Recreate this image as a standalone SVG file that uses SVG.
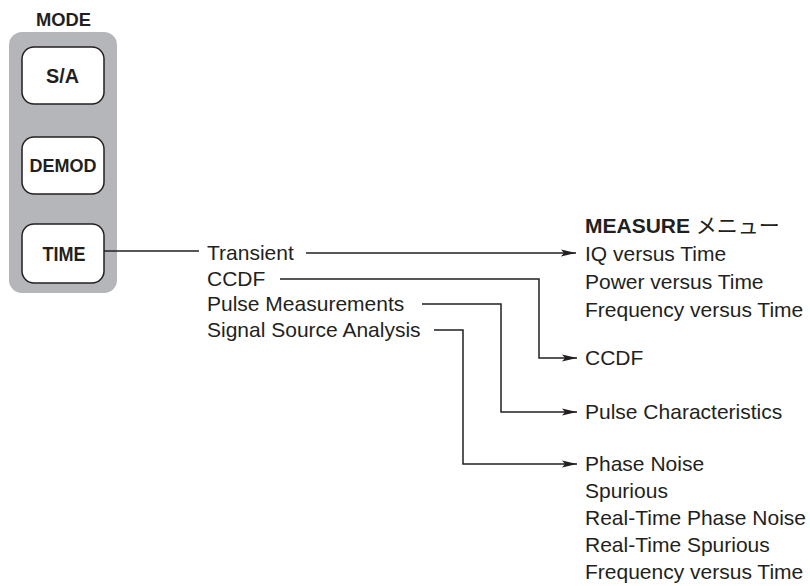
<svg xmlns="http://www.w3.org/2000/svg" width="810" height="586" viewBox="0 0 810 586">
<defs>
<marker id="arr" markerUnits="userSpaceOnUse" markerWidth="16" markerHeight="8" refX="15" refY="4" orient="auto">
<path d="M0,0.6 L15,4 L0,7.4 L3,4 Z" fill="#231f20"/>
</marker>
</defs>
<style>
.t{font-family:"Liberation Sans",Arial,"Noto Sans CJK JP",sans-serif;font-size:21px;fill:#231f20}
.b{font-family:"Liberation Sans",Arial,sans-serif;font-weight:bold;fill:#231f20;text-anchor:middle}
.btn{fill:#fff;stroke:#231f20;stroke-width:1.5}
.c{fill:none;stroke:#231f20;stroke-width:1.5}
</style>
<g id="mode-panel">
<text class="b" x="63.5" y="26" font-size="18" textLength="55" lengthAdjust="spacingAndGlyphs">MODE</text>
<rect x="9" y="32" width="108" height="261" rx="13" fill="#b5b6b9"/>
</g>
<g id="btn-sa">
<rect class="btn" x="22" y="47" width="82" height="57" rx="12"/>
<text class="b" x="62.5" y="83" font-size="21" textLength="33" lengthAdjust="spacingAndGlyphs">S/A</text>
</g>
<g id="btn-demod">
<rect class="btn" x="22" y="137" width="82" height="57" rx="12"/>
<text class="b" x="63" y="172" font-size="19" textLength="67" lengthAdjust="spacingAndGlyphs">DEMOD</text>
</g>
<g id="btn-time">
<rect class="btn" x="22" y="224" width="82" height="59" rx="12"/>
<text class="b" x="64" y="261" font-size="21" textLength="43" lengthAdjust="spacingAndGlyphs">TIME</text>
</g>
<g id="time-menu">
<text class="t" x="207" y="260">Transient</text>
<text class="t" x="207" y="286">CCDF</text>
<text class="t" x="207" y="311">Pulse Measurements</text>
<text class="t" x="207" y="337">Signal Source Analysis</text>
</g>
<g id="measure-transient">
<text class="t" x="585" y="233"><tspan font-weight="bold">MEASURE</tspan> メニュー</text>
<text class="t" x="585" y="261">IQ versus Time</text>
<text class="t" x="585" y="289">Power versus Time</text>
<text class="t" x="585" y="317">Frequency versus Time</text>
</g>
<g id="measure-ccdf">
<text class="t" x="585" y="365">CCDF</text>
</g>
<g id="measure-pulse">
<text class="t" x="585" y="419">Pulse Characteristics</text>
</g>
<g id="measure-ssa">
<text class="t" x="585" y="471">Phase Noise</text>
<text class="t" x="585" y="498">Spurious</text>
<text class="t" x="585" y="525">Real-Time Phase Noise</text>
<text class="t" x="585" y="552">Real-Time Spurious</text>
<text class="t" x="585" y="579">Frequency versus Time</text>
</g>
<g id="connectors">
<path class="c" d="M104,251 H199" stroke="#555"/>
<path class="c" d="M306,253 H576" marker-end="url(#arr)"/>
<path class="c" d="M280,279 H539 V358 H577" marker-end="url(#arr)"/>
<path class="c" d="M422,304 H501 V412 H577" marker-end="url(#arr)"/>
<path class="c" d="M434,330 H463 V464 H577" marker-end="url(#arr)"/>
</g>
</svg>
